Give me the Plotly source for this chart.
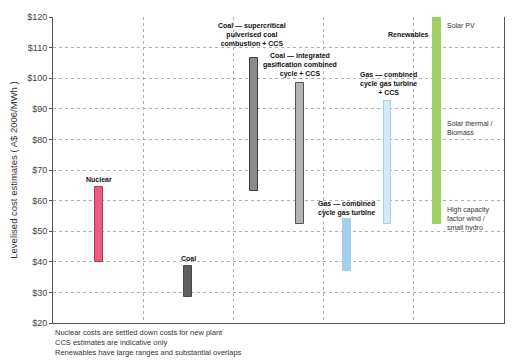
import plotly.graph_objects as go

# Data
technologies = ["Nuclear", "Coal", "Coal SC CCS", "Coal IGCC CCS", "Gas CCGT", "Gas CCGT CCS", "Renewables"]
positions = [0.51, 1.50, 2.23, 2.74, 3.26, 3.71, 4.26]
low_cost = [40, 28.5, 63, 52.5, 37, 52.5, 52.5]
high_cost = [64.5, 38.5, 106.5, 98.5, 54, 92.5, 120]
fill_colors = ["#e4607f", "#5f5f5f", "#8a8a8a", "#b4b4b4", "#a3d0ec", "#d3e9f8", "#9dcf63"]
line_colors = ["#c2305a", "#4a4a4a", "#3d3d3d", "#555555", "#a3d0ec", "#a9d0ea", "#9dcf63"]
y_ticks = [20, 30, 40, 50, 60, 70, 80, 90, 100, 110, 120]
y_tick_labels = ["$" + str(v) for v in y_ticks]

fig = go.Figure()
fig.add_trace(go.Bar(
    x=positions,
    base=low_cost,
    y=[h - l for h, l in zip(high_cost, low_cost)],
    width=0.085,
    marker=dict(color=fill_colors, line=dict(color=line_colors, width=1)),
    hovertext=technologies,
    showlegend=False,
))

def px_x(p):
    return (p - 53) / 90.2

def px_y(p):
    return 120 - (p - 17) / 3.06

FONT = "Liberation Sans, Arial, sans-serif"
bold_labels = [
    ("<b>Nuclear</b>", 99, 179),
    ("<b>Coal</b>", 188, 258),
    ("<b>Coal — supercritical<br>pulverised coal<br>combustion + CCS</b>", 252, 34),
    ("<b>Coal — integrated<br>gasification combined<br>cycle + CCS</b>", 300, 65),
    ("<b>Gas — combined<br>cycle gas turbine<br>+ CCS</b>", 388, 83),
    ("<b>Renewables</b>", 408, 34),
    ("<b>Gas — combined<br>cycle gas turbine</b>", 346, 208),
]
for text, x, y in bold_labels:
    fig.add_annotation(x=px_x(x), y=px_y(y), text=text, showarrow=False,
                       font=dict(family=FONT, size=7, color="#111"),
                       xanchor="center", yanchor="middle", align="center")

side_labels = [
    ("Solar PV", 445, 25),
    ("Solar thermal /<br>Biomass", 445, 128),
    ("High capacity<br>factor wind /<br>small hydro", 445, 219),
]
for text, x, y in side_labels:
    fig.add_annotation(x=px_x(x), y=px_y(y), text=text, showarrow=False,
                       font=dict(family=FONT, size=7, color="#333"),
                       xanchor="left", yanchor="middle", align="left")

fig.add_annotation(xref="paper", yref="paper", x=0, y=-0.01,
                   text="Nuclear costs are settled down costs for new plant<br>CCS estimates are indicative only<br>Renewables have large ranges and substantial overlaps",
                   showarrow=False, xanchor="left", yanchor="top", align="left",
                   font=dict(family=FONT, size=7.5, color="#333"))

# page body has an 8px default margin, so the figure is sized to fit inside the window
fig.update_layout(
    width=507, height=355,
    margin=dict(l=45, r=11, t=9, b=40, autoexpand=False),
    paper_bgcolor="white", plot_bgcolor="white",
    bargap=0,
    font=dict(family=FONT, color="#444"),
    xaxis=dict(range=[0, 5], tickvals=[1, 2, 3, 4], showticklabels=False, automargin=False,
               showgrid=True, gridcolor="#b0b0b0", griddash="dot", gridwidth=1,
               showline=True, linecolor="#555", linewidth=1, zeroline=False, ticks=""),
    yaxis=dict(range=[20, 120], tickvals=y_ticks, ticktext=y_tick_labels, automargin=False,
               showgrid=True, gridcolor="#b0b0b0", griddash="dot", gridwidth=1,
               showline=True, linecolor="#555", linewidth=1, mirror=True,
               ticks="outside", ticklen=3, tickcolor="#555", zeroline=False,
               tickfont=dict(size=9, color="#444"),
               title=dict(text="Levelised cost estimates ( A$ 2006/MWh )", font=dict(size=9.5, color="#333"), standoff=8)),
)
fig.write_html("out.html")
